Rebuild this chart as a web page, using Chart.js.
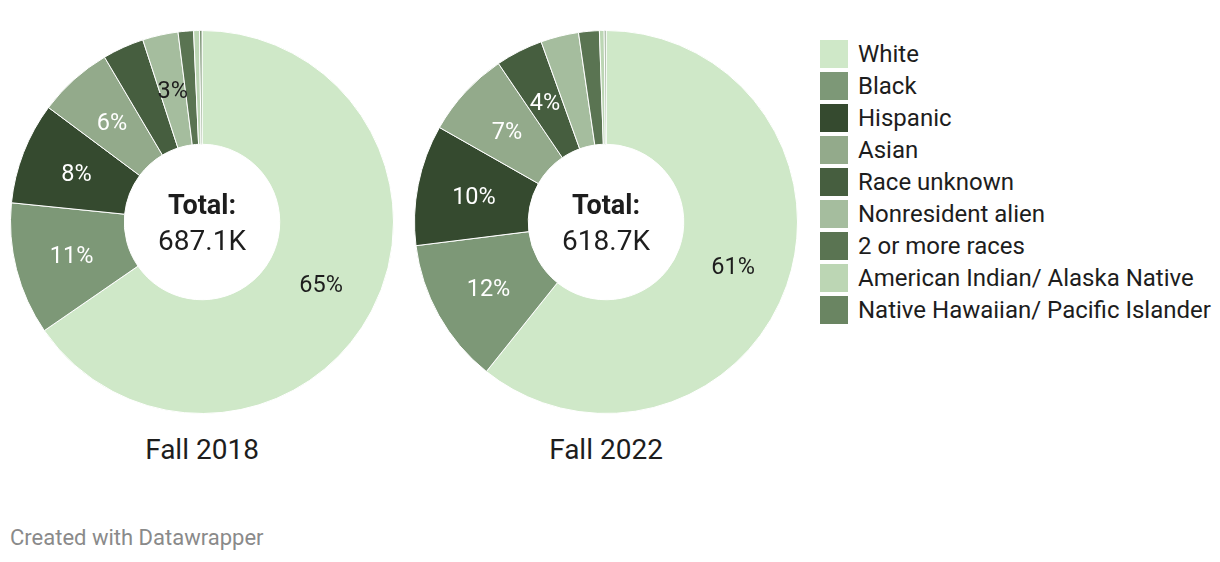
<!DOCTYPE html>
<html>
<head>
<meta charset="utf-8">
<script src="https://cdn.jsdelivr.net/npm/chart.js@4.4.1/dist/chart.umd.min.js"></script>
<style>
  html, body { margin:0; padding:0; background:#fff; width:1220px; height:562px; overflow:hidden; font-family: Roboto, "Noto Sans", sans-serif; color:#1d1d1d; }
  .wrap { position:absolute; width:384px; height:384px; top:30px; }
  .title { position:absolute; top:434px; width:384px; text-align:center; font-size:28px; line-height:32px; color:#1d1d1d; }
  #legend { position:absolute; left:820px; top:40px; }
  .li { height:32px; display:flex; align-items:flex-start; }
  .sw { width:28px; height:28px; margin-right:10px; flex:none; }
  .lt { font-size:24px; line-height:29px; white-space:nowrap; }
  #footer { position:absolute; left:10px; top:525px; font-size:22px; line-height:26px; color:#8a8a8a; }
</style>
</head>
<body>
<div class="wrap" style="left:10px"><canvas id="c1" width="384" height="384"></canvas></div>
<div class="wrap" style="left:414px"><canvas id="c2" width="384" height="384"></canvas></div>
<div class="title" style="left:10px">Fall 2018</div>
<div class="title" style="left:414px">Fall 2022</div>
<div id="legend"></div>
<div id="footer">Created with Datawrapper</div>
<script>
const categories = ["White","Black","Hispanic","Asian","Race unknown","Nonresident alien","2 or more races","American Indian/ Alaska Native","Native Hawaiian/ Pacific Islander"];
const fall2018 = [65.4, 11.2, 8.6, 6.3, 3.5, 3.0, 1.3, 0.5, 0.2];
const fall2022 = [60.8, 12.3, 10.2, 7.3, 4.0, 3.2, 1.75, 0.4, 0.15];
const labels2018 = ["65%","11%","8%","6%","","3%","","",""];
const labels2022 = ["61%","12%","10%","7%","4%","","","",""];
const totals = ["687.1K","618.7K"];
const colors = ["#cfe8c8","#7d9877","#354a2f","#93aa8b","#465e3f","#a5bd9e","#5a7452","#bcd6b4","#6a8562"];
const labelColors = ["#1d1d1d","#ffffff","#ffffff","#ffffff","#ffffff","#1d1d1d","#ffffff","#1d1d1d","#ffffff"];

// legend
const lg = document.getElementById('legend');
categories.forEach((c,i)=>{
  const d = document.createElement('div'); d.className='li';
  d.innerHTML = '<div class="sw" style="background:'+colors[i]+'"></div><div class="lt">'+c+'</div>';
  lg.appendChild(d);
});

const labelPlugin = {
  id:'sliceLabels',
  afterDatasetsDraw(chart, args, opts){
    const ctx = chart.ctx;
    const meta = chart.getDatasetMeta(0);
    ctx.save();
    ctx.textAlign='center'; ctx.textBaseline='middle';
    ctx.font = '23.5px Roboto';
    meta.data.forEach((arc,i)=>{
      const t = opts.labels[i]; if(!t) return;
      const p = arc.getProps(['x','y','startAngle','endAngle','innerRadius','outerRadius'], true);
      const a = (p.startAngle+p.endAngle)/2;
      const r = (p.innerRadius+p.outerRadius)/2;
      ctx.fillStyle = labelColors[i];
      ctx.fillText(t, p.x + Math.cos(a)*r, p.y + Math.sin(a)*r + 2);
    });
    const a0 = meta.data[0];
    ctx.fillStyle='#1d1d1d';
    ctx.font = 'bold 27px Roboto';
    ctx.fillText('Total:', a0.x, a0.y-15);
    ctx.font = '28px Roboto';
    ctx.fillText(opts.total, a0.x, a0.y+21);
    ctx.restore();
  }
};

function make(id, data, lbls, total){
  new Chart(document.getElementById(id), {
    type:'doughnut',
    data:{ labels:categories, datasets:[{ data:data, backgroundColor:colors, borderColor:'#ffffff', borderWidth:1, hoverOffset:0 }]},
    options:{
      responsive:false, animation:false, cutout:'40.6%',
      layout:{padding:0},
      plugins:{ legend:{display:false}, tooltip:{enabled:false}, sliceLabels:{labels:lbls,total:total} }
    },
    plugins:[labelPlugin]
  });
}
make('c1', fall2018, labels2018, totals[0]);
make('c2', fall2022, labels2022, totals[1]);
</script>
</body>
</html>
